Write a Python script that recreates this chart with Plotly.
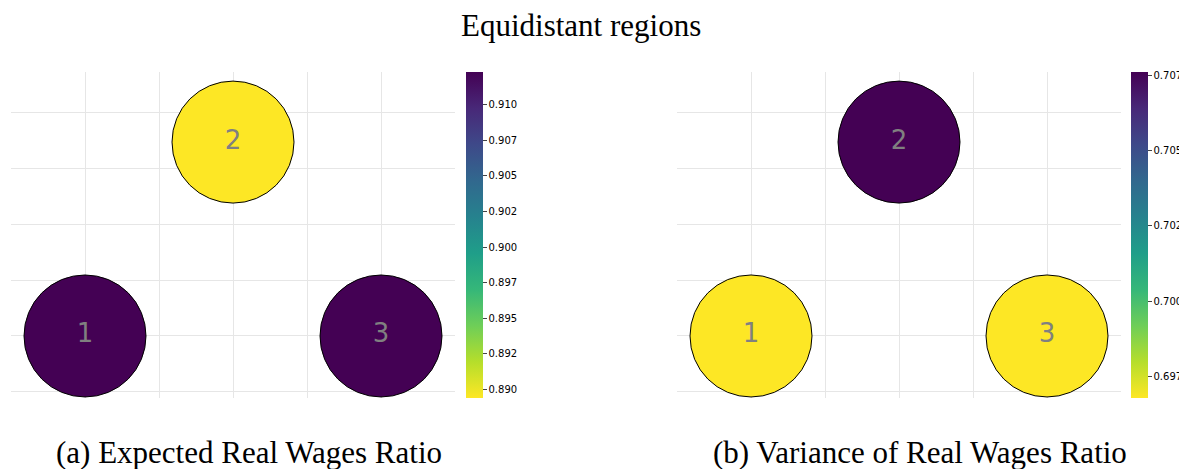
import plotly.graph_objects as go

# region coordinates (equilateral triangle)
region_labels = ["1", "2", "3"]
region_x = [0.0, 1.0, 2.0]
region_y = [0.0, 0.866, 0.0]

# values per region
expected_ratio = [0.9123, 0.8894, 0.9123]
variance_ratio = [0.6968, 0.7076, 0.6968]

expected_ticks = [0.890, 0.8925, 0.895, 0.8975, 0.900, 0.9025, 0.905, 0.9075, 0.910]
expected_ticktext = ["0.890", "0.892", "0.895", "0.897", "0.900", "0.902", "0.905", "0.907", "0.910"]
variance_ticks = [0.6975, 0.700, 0.7025, 0.705, 0.7075]
variance_ticktext = ["0.697", "0.700", "0.702", "0.705", "0.707"]

title_text = "Equidistant regions"
captions = ["(a) Expected Real Wages Ratio", "(b) Variance of Real Wages Ratio"]

# page body has an 8px margin, so work in window pixels and shift back
OFF = 8
W, H = 1187 - OFF, 469 - OFF
SERIF = "Liberation Serif"


def px_x(x):
    return (x - OFF) / W


def px_y(y):
    return 1 - (y - OFF) / H


# pixel layout of the two panels (window coordinates)
panels = [
    dict(x0=11, x1=455, cb=466, vals=expected_ratio, tv=expected_ticks, tt=expected_ticktext),
    dict(x0=677, x1=1121, cb=1131, vals=variance_ratio, tv=variance_ticks, tt=variance_ticktext),
]
Y_TOP, Y_BOT = 72, 398

fig = go.Figure()

for i, p in enumerate(panels):
    suffix = "" if i == 0 else str(i + 1)
    fig.add_trace(go.Scatter(
        x=region_x,
        y=region_y,
        mode="markers+text",
        text=region_labels,
        textposition="middle center",
        textfont=dict(family="DejaVu Sans", size=26, color="#808080"),
        marker=dict(
            size=122,
            color=p["vals"],
            colorscale="Viridis",
            reversescale=True,
            cmin=min(p["vals"]),
            cmax=max(p["vals"]),
            line=dict(color="black", width=1),
            colorbar=dict(
                x=px_x(p["cb"]),
                xanchor="left",
                y=px_y((Y_TOP + Y_BOT) / 2),
                yanchor="middle",
                len=Y_BOT - Y_TOP,
                lenmode="pixels",
                thickness=17,
                thicknessmode="pixels",
                outlinewidth=0,
                tickvals=p["tv"],
                ticktext=p["tt"],
                ticks="outside",
                ticklen=4,
                tickfont=dict(family="DejaVu Sans", size=10, color="black"),
                xpad=0,
                ypad=0,
            ),
        ),
        hoverinfo="skip",
        showlegend=False,
        xaxis="x" + suffix,
        yaxis="y" + suffix,
    ))

    axis_common = dict(
        showgrid=True,
        gridcolor="#e6e6e6",
        gridwidth=1,
        zeroline=False,
        showticklabels=False,
        ticks="",
        showline=False,
        fixedrange=True,
    )
    fig.update_layout({
        "xaxis" + suffix: dict(
            axis_common,
            domain=[px_x(p["x0"]), px_x(p["x1"])],
            range=[-0.5, 2.5],
            dtick=0.5,
            anchor="y" + suffix,
        ),
        "yaxis" + suffix: dict(
            axis_common,
            domain=[px_y(Y_BOT), px_y(Y_TOP)],
            range=[-0.277, 1.179],
            dtick=0.25,
            anchor="x" + suffix,
        ),
    })

fig.add_annotation(
    text=title_text, x=px_x(581), y=px_y(25), xref="paper", yref="paper",
    xanchor="center", yanchor="middle", showarrow=False,
    font=dict(family=SERIF, size=31, color="black"),
)
for cx, cap in zip([249, 920], captions):
    fig.add_annotation(
        text=cap, x=px_x(cx), y=px_y(452), xref="paper", yref="paper",
        xanchor="center", yanchor="middle", showarrow=False,
        font=dict(family=SERIF, size=31, color="black"),
    )

fig.update_layout(
    width=W,
    height=H,
    margin=dict(l=0, r=0, t=0, b=0),
    paper_bgcolor="white",
    plot_bgcolor="white",
)

fig.write_html("out.html")
